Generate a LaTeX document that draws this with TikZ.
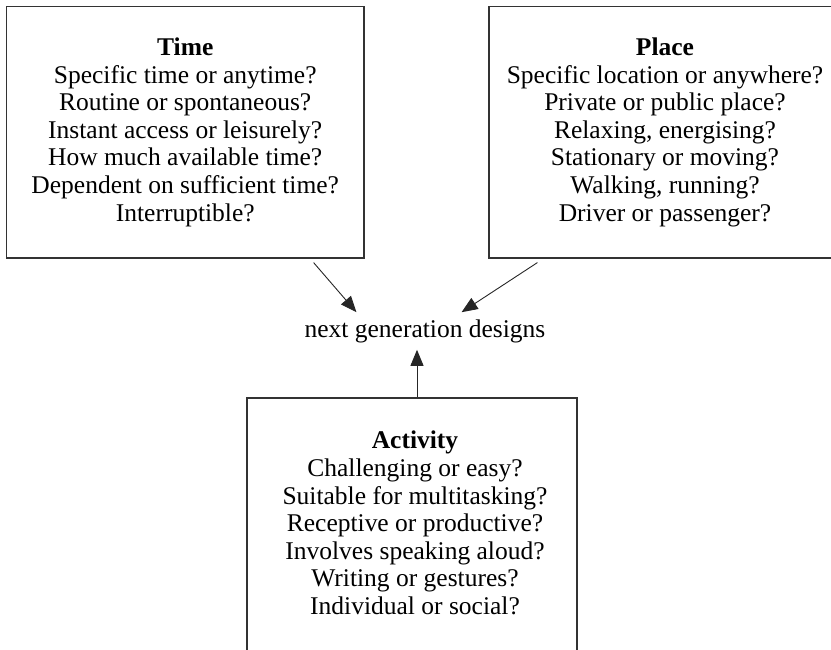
\documentclass[tikz,border=0pt]{standalone}
\usepackage{fontspec}
\setmainfont{Liberation Serif}
\usetikzlibrary{arrows.meta,calc}
\begin{document}
\begin{tikzpicture}[x=1pt,y=-1pt,
  box/.style={draw=black!80,line width=1.2pt,inner sep=0pt,align=center,
    font=\fontsize{25.5}{27.6}\selectfont},
  label/.style={inner xsep=0pt,inner ysep=7pt,font=\fontsize{25.5}{27.6}\selectfont},
  arr/.style={draw=black!85,line width=0.9pt,-{Triangle[length=16pt,width=13pt]}}]
\useasboundingbox (0,0) rectangle (831,650);
\clip (0,0) rectangle (831,650);
\node[box,minimum width=357.5pt,minimum height=251.5pt] (time) at (185.25,132.25)
  {\textbf{Time}\\Specific time or anytime?\\Routine or spontaneous?\\Instant access or leisurely?\\How much available time?\\Dependent on sufficient time?\\Interruptible?};
\node[box,minimum width=352pt,minimum height=251.5pt] (place) at (665,132.25)
  {\textbf{Place}\\Specific location or anywhere?\\Private or public place?\\Relaxing, energising?\\Stationary or moving?\\Walking, running?\\Driver or passenger?};
\node[box,minimum width=330pt,minimum height=300pt] (actbox) at (412,548) {};
\node[box,draw=none] (activity) at (415,523)
  {\textbf{Activity}\\Challenging or easy?\\Suitable for multitasking?\\Receptive or productive?\\Involves speaking aloud?\\Writing or gestures?\\Individual or social?};
\node[label] (next) at (425,331) {next generation designs};
\draw[arr] ([xshift=-51pt,yshift=-4pt]time.south east) -- ([xshift=52pt]next.north west);
\draw[arr] ([xshift=49pt,yshift=-4pt]place.south west) -- ([xshift=-84pt]next.north east);
\draw[arr] ([xshift=5pt]actbox.north) -- ([xshift=-8pt]next.south);
\end{tikzpicture}
\end{document}
